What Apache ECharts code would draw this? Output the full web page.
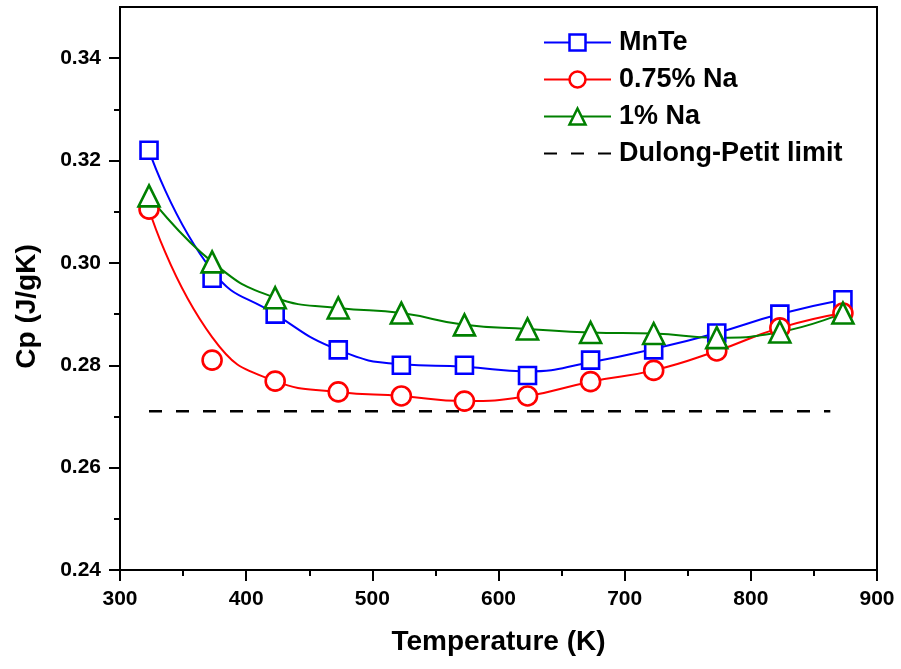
<!DOCTYPE html>
<html>
<head>
	<meta charset="utf-8" />
	<title>Cp vs Temperature</title>
	<script src="https://cdn.jsdelivr.net/npm/echarts@6/dist/echarts.min.js"></script>
	<style>
		body { margin: 0; background: #fff; }
		#chart { width: 901px; height: 669px; }
	</style>
</head>
<body>
<div id="chart"></div>
<script type="text/javascript">
	// measured points
	var temps = [323, 373, 423, 473, 523, 573, 623, 673, 723, 773, 823, 873];
	var mnteCp = [0.322, 0.297, 0.290, 0.283, 0.280, 0.280, 0.278, 0.281, 0.283, 0.2863, 0.290, 0.2928];
	var na075Cp = [0.3105, 0.281, 0.2769, 0.2748, 0.274, 0.2730, 0.274, 0.2768, 0.2790, 0.2828, 0.2873, 0.2902];
	var na1Cp = [0.3131, 0.3002, 0.2932, 0.2912, 0.2902, 0.2879, 0.2871, 0.2864, 0.2862, 0.2854, 0.2865, 0.2902];
	// fitted curves
	var mnteFit = [0.322, 0.2985, 0.290, 0.283, 0.2802, 0.2797, 0.2788, 0.2806, 0.2832, 0.2863, 0.290, 0.2928];
	var na075Fit = [0.3105, 0.2855, 0.2769, 0.2748, 0.274, 0.2730, 0.274, 0.2768, 0.2790, 0.2828, 0.2873, 0.2902];
	var na1Fit = na1Cp;
	// Dulong-Petit limit
	var dulongT = [323, 863];
	var dulongCp = [0.271, 0.271];
	// tick positions
	var xMajor = [300, 400, 500, 600, 700, 800, 900];
	var yMajor = [0.24, 0.26, 0.28, 0.30, 0.32, 0.34];
	var yMinor = [0.25, 0.27, 0.29, 0.31, 0.33];

	var FONT = 'Liberation Sans, Arial, sans-serif';
	var BLUE = '#0000ff', RED = '#ff0000', GREEN = '#008000';

	function pairs(xs, ys) {
		return xs.map(function (x, i) { return [x, ys[i]]; });
	}

	function curve(name, color, symbol, fit) {
		return {
			name: name, type: 'line', smooth: 0.5,
			symbol: symbol, showSymbol: false,
			lineStyle: { color: color, width: 2 },
			itemStyle: { color: '#fff', borderColor: color, borderWidth: 2.5 },
			data: pairs(temps, fit),
			z: 2
		};
	}
	function marks(name, color, symbol, size, vals) {
		return {
			name: name, type: 'scatter',
			symbol: symbol, symbolSize: size,
			itemStyle: { color: '#fff', borderColor: color, borderWidth: 2.6, opacity: 1 },
			data: pairs(temps, vals),
			z: 3
		};
	}

	var myChart = echarts.init(document.getElementById('chart'));
	var option = {
		backgroundColor: '#fff',
		animation: false,
		grid: {
			left: 120, right: 24, top: 7, bottom: 99,
			show: true, borderColor: '#000', borderWidth: 2
		},
		legend: {
			orient: 'vertical', left: 543, top: 29, padding: 0,
			itemWidth: 67, itemHeight: 20, itemGap: 10,
			textStyle: { fontFamily: FONT, fontSize: 27, fontWeight: 'bold', color: '#000', padding: [0, 0, 0, 3] },
			data: [
				{ name: 'MnTe', itemStyle: { color: '#fff', borderColor: BLUE, borderWidth: 2.5 } },
				{ name: '0.75% Na', itemStyle: { color: '#fff', borderColor: RED, borderWidth: 2.5 } },
				{ name: '1% Na', itemStyle: { color: '#fff', borderColor: GREEN, borderWidth: 2.5 } },
				{ name: 'Dulong-Petit limit', itemStyle: { opacity: 0 } }
			]
		},
		xAxis: {
			type: 'value', min: 300, max: 900, interval: 100,
			name: 'Temperature (K)', nameLocation: 'middle', nameGap: 58,
			nameTextStyle: { fontFamily: FONT, fontSize: 28, fontWeight: 'bold', color: '#000' },
			axisLine: { lineStyle: { color: '#000', width: 2 } },
			axisTick: { customValues: xMajor, length: 11, lineStyle: { color: '#000', width: 2 } },
			minorTick: { show: true, splitNumber: 2, length: 6, lineStyle: { color: '#000', width: 2 } },
			axisLabel: { customValues: xMajor, margin: 19, fontFamily: FONT, fontSize: 21, fontWeight: 'bold', color: '#000' },
			splitLine: { show: false }
		},
		yAxis: [{
			type: 'value', min: 0.24, max: 0.35,
			name: 'Cp (J/gK)', nameLocation: 'middle', nameGap: 79,
			nameTextStyle: { fontFamily: FONT, fontSize: 28, fontWeight: 'bold', color: '#000', padding: [0, 36, 0, 0] },
			axisLine: { lineStyle: { color: '#000', width: 2 } },
			axisTick: { customValues: yMajor, length: 11, lineStyle: { color: '#000', width: 2 } },
			axisLabel: {
				customValues: yMajor, margin: 19, fontFamily: FONT, fontSize: 21, fontWeight: 'bold', color: '#000',
				formatter: function (v) { return v.toFixed(2); }
			},
			splitLine: { show: false }
		}, {
			type: 'value', min: 0.24, max: 0.35, position: 'left', offset: 0,
			axisLine: { show: false },
			axisTick: { customValues: yMinor, length: 6, lineStyle: { color: '#000', width: 2 } },
			axisLabel: { show: false },
			splitLine: { show: false }
		}],
		series: [
			curve('MnTe', BLUE, 'rect', mnteFit),
			curve('0.75% Na', RED, 'circle', na075Fit),
			curve('1% Na', GREEN, 'triangle', na1Fit),
			{
				name: 'Dulong-Petit limit', type: 'line', symbol: 'none',
				lineStyle: { color: '#000', width: 2.5, type: [13, 14] },
				itemStyle: { color: '#000' },
				data: pairs(dulongT, dulongCp),
				z: 1
			},
			marks('MnTe', BLUE, 'rect', 17, mnteCp),
			marks('0.75% Na', RED, 'circle', 19, na075Cp),
			marks('1% Na', GREEN, 'triangle', 21, na1Cp)
		]
	};
	myChart.setOption(option);
</script>
</body>
</html>
